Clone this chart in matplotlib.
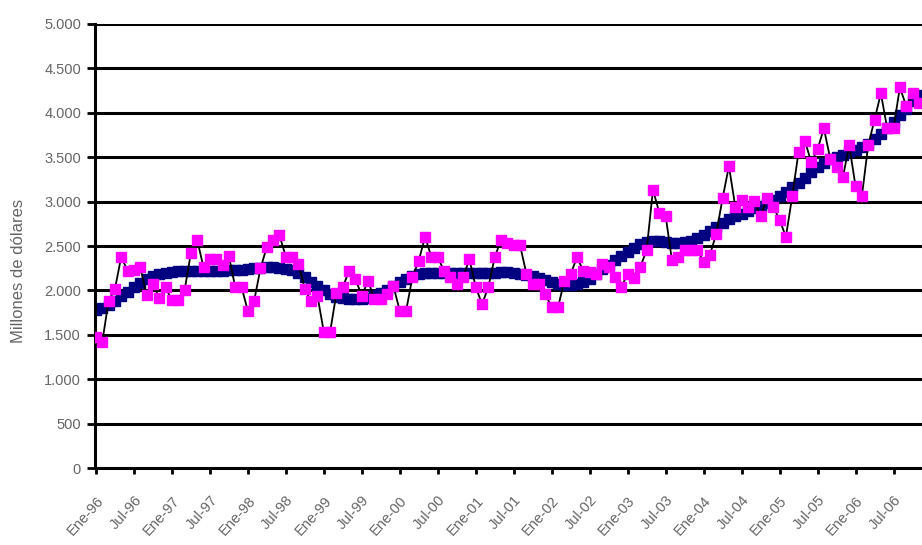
import numpy as np
import matplotlib
matplotlib.use("Agg")
import matplotlib.pyplot as plt

plt.rcParams['font.family'] = ['Liberation Sans', 'DejaVu Sans']

# monthly values, Ene-96 .. Nov-06 (millones de dolares)
actual = [1480, 1420, 1880, 2015, 2380, 2220, 2230, 2265, 1950, 2070, 1920, 2035,
          1890, 1890, 2000, 2420, 2570, 2260, 2350, 2350, 2285, 2390, 2040, 2040,
          1770, 1885, 2250, 2490, 2570, 2620, 2380, 2380, 2300, 2015, 1880, 1940,
          1535, 1535, 1970, 2040, 2220, 2130, 1940, 2110, 1900, 1900, 1960, 2050,
          1770, 1770, 2150, 2335, 2605, 2375, 2375, 2220, 2150, 2070, 2150, 2350,
          2040, 1845, 2040, 2375, 2570, 2530, 2510, 2510, 2190, 2070, 2070, 1960,
          1810, 1810, 2110, 2185, 2375, 2220, 2205, 2185, 2295, 2265, 2155, 2040,
          2185, 2140, 2265, 2455, 3135, 2875, 2840, 2340, 2375, 2455, 2455, 2455,
          2325, 2400, 2640, 3040, 3400, 2945, 3020, 2945, 3005, 2835, 3040, 2945,
          2795, 2605, 3060, 3560, 3685, 3445, 3590, 3825, 3485, 3395, 3275, 3635,
          3175, 3060, 3635, 3920, 4220, 3825, 3825, 4285, 4080, 4220, 4115]

trend = [1780, 1800, 1840, 1885, 1935, 1985, 2040, 2085, 2130, 2160, 2185, 2200,
         2210, 2215, 2215, 2215, 2215, 2215, 2215, 2215, 2220, 2225, 2230, 2235,
         2245, 2250, 2255, 2260, 2260, 2255, 2245, 2225, 2195, 2150, 2100, 2050,
         2000, 1960, 1930, 1910, 1900, 1900, 1905, 1920, 1945, 1975, 2010, 2050,
         2090, 2130, 2160, 2180, 2195, 2200, 2200, 2200, 2200, 2200, 2200, 2200,
         2200, 2200, 2200, 2200, 2205, 2205, 2200, 2190, 2175, 2160, 2140, 2115,
         2095, 2075, 2065, 2065, 2075, 2095, 2130, 2180, 2240, 2290, 2340, 2390,
         2435, 2480, 2520, 2545, 2555, 2555, 2545, 2535, 2535, 2545, 2560, 2590,
         2630, 2675, 2720, 2760, 2800, 2835, 2865, 2895, 2925, 2955, 2985, 3020,
         3060, 3110, 3160, 3210, 3270, 3330, 3390, 3440, 3475, 3505, 3530, 3555,
         3580, 3610, 3650, 3700, 3760, 3830, 3900, 3970, 4045, 4130, 4200]

years = ['96', '97', '98', '99', '00', '01', '02', '03', '04', '05', '06']
xlabels = []
for yy in years:
    xlabels += ['Ene-' + yy, 'Jul-' + yy]

months = np.arange(len(actual))

fig = plt.figure(figsize=(9.22, 5.45), dpi=100)
ax = fig.add_axes([0.103, 0.141, 0.897, 0.815])

for v in range(500, 5001, 500):
    ax.axhline(v, color='black', lw=2.2, zorder=1)

ax.plot(months, trend, ls='-', color='#000080', lw=3, marker='s', ms=7,
        mec='#000080', mfc='#000080', zorder=2)
ax.plot(months, actual, ls='-', color='black', lw=1.3, zorder=3)
ax.plot(months, actual, ls='none', marker='s', ms=7.5,
        mec='#FF00FF', mfc='#FF00FF', zorder=4)

ax.set_xlim(-0.15, 130.5)
ax.set_ylim(0, 5000)
ax.set_yticks(range(0, 5001, 500))
ax.set_yticklabels(['0', '500', '1.000', '1.500', '2.000', '2.500',
                    '3.000', '3.500', '4.000', '4.500', '5.000'])
ax.set_xticks(np.arange(0, len(xlabels) * 6, 6))
ax.set_xticklabels(xlabels, rotation=48, ha='right', rotation_mode='anchor')

ax.tick_params(axis='y', length=6, width=2, color='black', labelsize=10.5,
               labelcolor='#666666', pad=4)
ax.tick_params(axis='x', length=4, width=2, color='black', labelsize=10.5,
               labelcolor='#666666', pad=14)

for s in ['top', 'right']:
    ax.spines[s].set_visible(False)
ax.spines['left'].set_linewidth(2.2)
ax.spines['bottom'].set_linewidth(2.2)

ax.set_ylabel('Millones de dólares', fontsize=12, color='#666666')
ax.yaxis.set_label_coords(-0.083, 0.445)

fig.savefig('out.png', dpi=100)
